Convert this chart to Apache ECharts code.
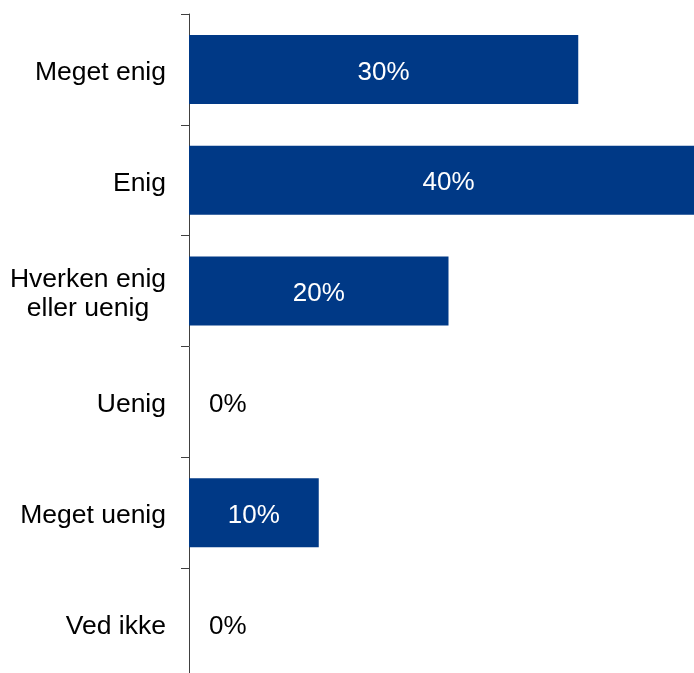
<!DOCTYPE html>
<html>
<head>
<meta charset="utf-8">
<script src="https://cdn.jsdelivr.net/npm/echarts@6/dist/echarts.min.js"></script>
<style>
html,body{margin:0;padding:0;background:#fff;overflow:hidden;width:694px;height:673px;}
#chart{width:709px;height:679px;}
</style>
</head>
<body>
<div id="chart"></div>
<script>
var categories = ['Meget enig', 'Enig', 'Hverken enig\neller uenig', 'Uenig', 'Meget uenig', 'Ved ikke'];
var values = [30, 40, 20, 0, 10, 0];
var FONT = '"Liberation Sans", Arial, Helvetica, sans-serif';

var chart = echarts.init(document.getElementById('chart'));
var seriesData = values.map(function (v) {
  if (v === 0) {
    return { value: v, label: { position: 'right', distance: 20, color: '#000' } };
  }
  return { value: v };
});

chart.setOption({
  animation: false,
  backgroundColor: '#ffffff',
  grid: { left: 189, right: 1, top: 14, bottom: 0, containLabel: false },
  xAxis: {
    type: 'value', min: 0, max: 40, show: false
  },
  yAxis: {
    type: 'category',
    data: categories,
    inverse: true,
    axisLine: { show: true, lineStyle: { color: '#404040', width: 1 } },
    axisTick: { show: true, length: 8, alignWithLabel: false, lineStyle: { color: '#404040', width: 1 } },
    axisLabel: {
      margin: 23,
      color: '#000',
      fontSize: 26.5,
      fontFamily: FONT,
      lineHeight: 28.5,
      padding: [6, 0, 0, 0],
      formatter: function (val) {
        if (val.indexOf('\n') >= 0) {
          return val.split('\n').map(function (s) { return '{c|' + s + '}'; }).join('\n');
        }
        return val;
      },
      rich: {
        c: { width: 156, align: 'center', fontSize: 26.5, fontFamily: FONT, color: '#000', lineHeight: 28.5 }
      }
    },
    splitLine: { show: false }
  },
  series: [{
    type: 'bar',
    data: seriesData,
    barWidth: 69,
    itemStyle: { color: '#003986' },
    label: {
      show: true,
      position: 'inside',
      offset: [0, 3],
      color: '#ffffff',
      fontSize: 26,
      fontFamily: FONT,
      formatter: '{c}%'
    }
  }]
});
</script>
</body>
</html>
